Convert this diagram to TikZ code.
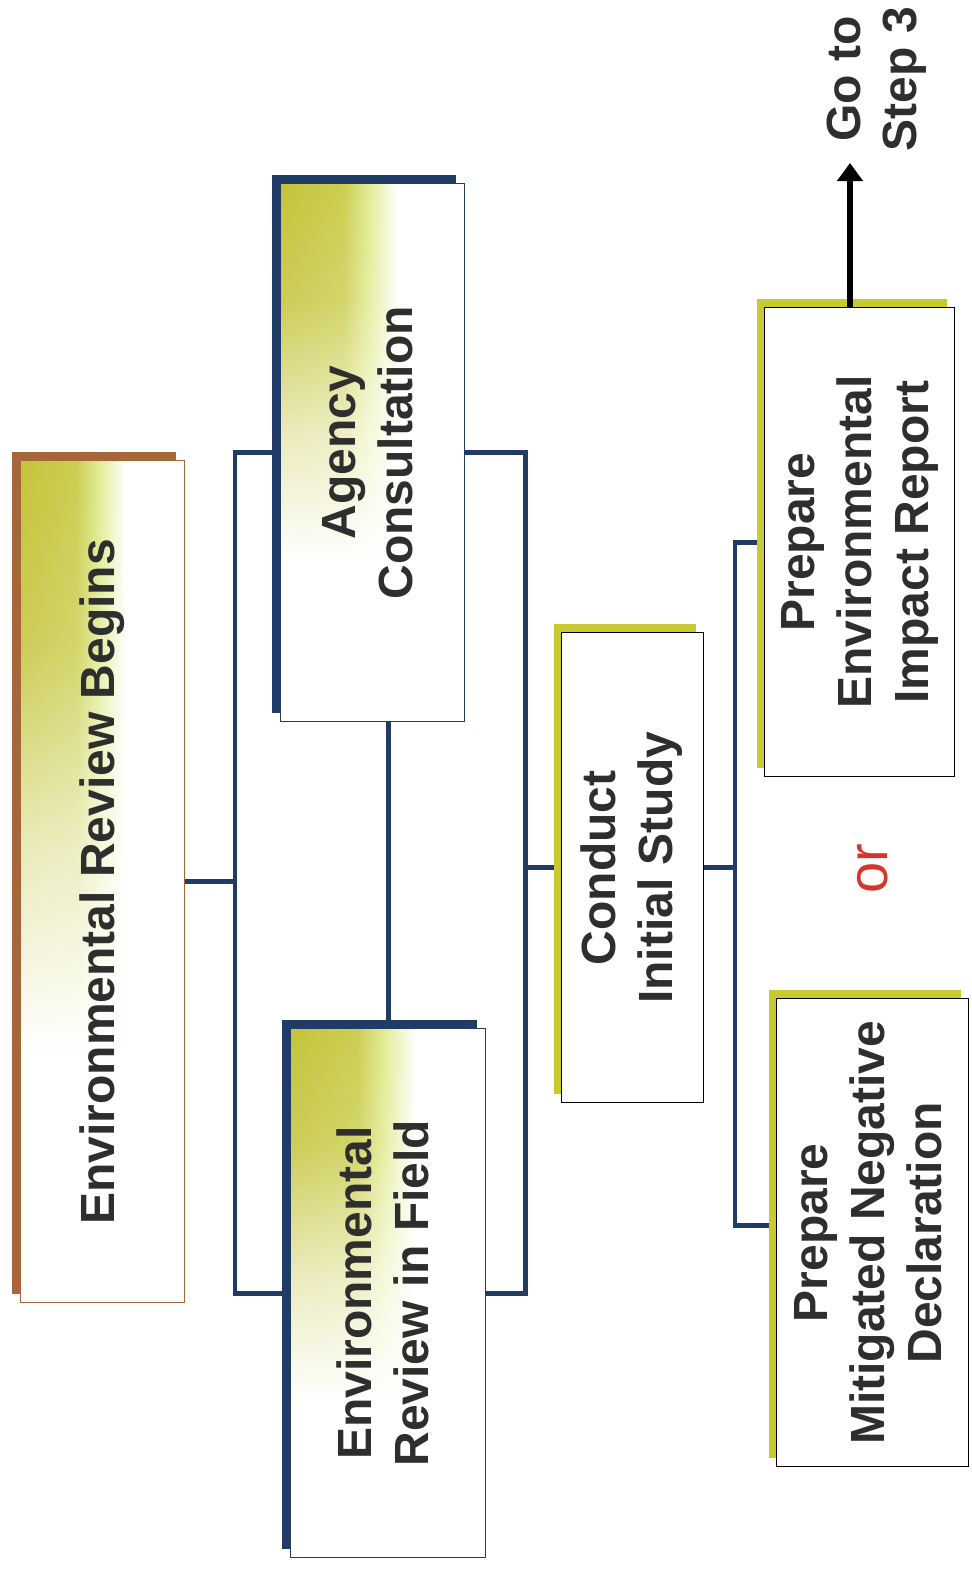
\documentclass[tikz,border=0pt]{standalone}
\usepackage{fontspec}
\setmainfont{Liberation Sans}
\usepackage{graphicx}
\usetikzlibrary{arrows.meta,shadows,fadings,backgrounds}

\definecolor{linknavy}{HTML}{1F3B66}
\definecolor{shadebrown}{HTML}{A5663A}
\definecolor{shadeolive}{HTML}{C9C932}
\definecolor{glowolive}{HTML}{C4C43A}
\definecolor{glowlime}{HTML}{E3EC96}
\definecolor{inkgray}{HTML}{2E2E2E}
\definecolor{orred}{HTML}{D8342A}

\pgfdeclarehorizontalshading{glowshade}{100bp}{color(0bp)=(glowolive); color(25bp)=(glowolive); color(42bp)=(glowolive!75!glowlime); color(49bp)=(glowlime); color(57bp)=(white); color(100bp)=(white)}
% white = opaque, black = see-through
\pgfdeclareverticalshading{glowfadeshade}{100bp}{color(0bp)=(black); color(40bp)=(black); color(52bp)=(white!35!black); color(64bp)=(white!85!black); color(75bp)=(white); color(100bp)=(white)}
\pgfdeclarefading{glowfade}{\pgfuseshading{glowfadeshade}}

\tikzset{
  stepbox/.style={draw, line width=0.7pt, fill=white, inner sep=0pt, anchor=north west,
    text=inkgray, font=\fontsize{24}{28.5}\selectfont\bfseries},
  glow/.style={path picture={\shade[shading=glowshade, path fading=glowfade]
    (path picture bounding box.south west) rectangle (path picture bounding box.north east);}},
  navyshadow/.style={general shadow={fill=linknavy, shadow xshift=-4.5pt, shadow yshift=4.5pt}},
  brownshadow/.style={general shadow={fill=shadebrown, shadow xshift=-4.5pt, shadow yshift=4.5pt}},
  oliveshadow/.style={general shadow={fill=shadeolive, shadow xshift=-4pt, shadow yshift=4.5pt}},
  link/.style={draw=linknavy, line width=2.3pt},
}
\newcommand{\uptext}[1]{\rotatebox{90}{\begin{tabular}{@{}c@{}}#1\end{tabular}}}

\begin{document}
\begin{tikzpicture}[x=0.5pt, y=-0.5pt]
\useasboundingbox (0,0) rectangle (971,1570);

% boxes
\node[stepbox, draw=shadebrown, brownshadow, glow, minimum width=82pt, minimum height=421pt]
  (begins) at (20,460) {\uptext{Environmental Review Begins}};
\node[stepbox, draw=linknavy, navyshadow, glow, minimum width=92pt, minimum height=269pt]
  (agency) at (280,183) {\uptext{Agency\\Consultation}};
\node[stepbox, draw=linknavy, navyshadow, glow, minimum width=97.5pt, minimum height=264.5pt]
  (field) at (290,1028) {\uptext{Environmental\\Review in Field}};
\node[stepbox, oliveshadow, minimum width=71pt, minimum height=235pt]
  (conduct) at (561,632) {\uptext{Conduct\\Initial Study}};
\node[stepbox, oliveshadow, minimum width=95pt, minimum height=234.5pt]
  (eir) at (764,307) {\uptext{Prepare\\Environmental\\Impact Report}};
\node[stepbox, oliveshadow, minimum width=96pt, minimum height=234pt]
  (mnd) at (776,998) {\uptext{Prepare\\Mitigated Negative\\Declaration}};

\node[rotate=90, text=orred, font=\fontsize{28}{32}\selectfont] (orword) at (873,869) {or};
\node[rotate=90, align=center, text=inkgray, font=\fontsize{24}{28}\selectfont\bfseries]
  (gotostep) at (877,79) {Go to\\Step 3};

% connectors
\begin{scope}[on background layer]
\draw[link] (begins.east) -- ++(51,0);
\draw[link] (agency.west) -- ++(-45,0) |- (field.west);
\draw[link] (agency.south -| field.north) -- (field.north);
\draw[link] (agency.east) -- ++(60,0) |- (field.east);
\draw[link] (conduct.west) -- ++(-37,0);
\draw[link] (conduct.east) -- ++(32,0);
\draw[link] (eir.west) -- ++(-29,0) |- ([yshift=3.5pt]mnd.west);
\end{scope}
\coordinate (step3) at (850,163);
\draw[line width=2.6pt, -{Triangle[width=12.5pt,length=9pt]}] (eir.north -| step3) -- (step3);
\end{tikzpicture}
\end{document}
